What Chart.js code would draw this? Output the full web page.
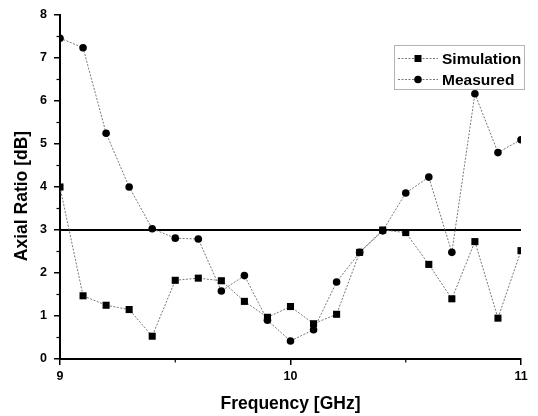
<!DOCTYPE html>
<html>
<head>
<meta charset="utf-8">
<script src="https://cdn.jsdelivr.net/npm/chart.js@4.4.1/dist/chart.umd.min.js"></script>
<style>
html,body{margin:0;padding:0;background:#fff;}
#wrap{width:538px;height:416px;position:relative;}
</style>
</head>
<body>
<div id="wrap"><canvas id="c" width="538" height="416"></canvas></div>
<script>
const frequencies = [9.0, 9.1, 9.2, 9.3, 9.4, 9.5, 9.6, 9.7, 9.8, 9.9, 10.0, 10.1, 10.2, 10.3, 10.4, 10.5, 10.6, 10.7, 10.8, 10.9, 11.0];
const simulation = [4.0, 1.47, 1.25, 1.15, 0.53, 1.83, 1.88, 1.82, 1.34, 0.97, 1.22, 0.82, 1.04, 2.48, 3.0, 2.94, 2.2, 1.4, 2.73, 0.95, 2.52];
const measured = [7.46, 7.24, 5.25, 4.0, 3.03, 2.81, 2.79, 1.58, 1.94, 0.9, 0.42, 0.68, 1.79, 2.48, 2.98, 3.86, 4.23, 2.48, 6.17, 4.8, 5.1];
const thresholdX = [9, 11];
const thresholdY = [3, 3];
const xTicks = [9, 10, 11];
const yTicks = [0, 1, 2, 3, 4, 5, 6, 7, 8];
const seriesNames = ['Simulation', 'Measured'];
const xTitle = 'Frequency [GHz]';
const yTitle = 'Axial Ratio [dB]';

const toXY = (xs, ys) => xs.map((x, i) => ({x: x, y: ys[i]}));
const FONT = '"Liberation Sans", Arial, sans-serif';

const minorTicks = {
  id: 'minorTicks',
  afterDraw(chart) {
    const ctx = chart.ctx, xs = chart.scales.x, ys = chart.scales.y, a = chart.chartArea;
    ctx.save();
    ctx.strokeStyle = '#000';
    ctx.lineWidth = 1.2;
    for (let v = 0.5; v < 8; v += 1) {
      const py = ys.getPixelForValue(v);
      ctx.beginPath(); ctx.moveTo(a.left - 3.5, py); ctx.lineTo(a.left, py); ctx.stroke();
    }
    for (let v = 9.5; v < 11; v += 1) {
      const px = xs.getPixelForValue(v);
      ctx.beginPath(); ctx.moveTo(px, a.bottom); ctx.lineTo(px, a.bottom + 3.5); ctx.stroke();
    }
    // y-axis title
    ctx.save();
    ctx.translate(22, 196);
    ctx.rotate(-Math.PI / 2);
    ctx.fillStyle = '#000';
    ctx.font = 'bold 17.5px ' + FONT;
    ctx.textAlign = 'center';
    ctx.textBaseline = 'middle';
    ctx.fillText(yTitle, 0, 0);
    ctx.restore();
    ctx.restore();
  }
};

const legendBox = {
  id: 'legendBox',
  afterDraw(chart) {
    const ctx = chart.ctx;
    const x0 = 394, y0 = 45, w = 130, h = 44;
    ctx.save();
    ctx.fillStyle = '#fff';
    ctx.fillRect(x0, y0, w, h);
    ctx.strokeStyle = '#666';
    ctx.lineWidth = 1;
    ctx.setLineDash([1, 1]);
    ctx.strokeRect(x0 + 0.5, y0 + 0.5, w, h);
    const rows = [y0 + 13.5, y0 + 34.5];
    const styles = ['rect', 'circle'];
    rows.forEach((ry, i) => {
      ctx.setLineDash([2, 1.5]);
      ctx.strokeStyle = '#777';
      ctx.beginPath(); ctx.moveTo(x0 + 4, ry); ctx.lineTo(x0 + 44, ry); ctx.stroke();
      ctx.setLineDash([]);
      ctx.fillStyle = '#000';
      if (styles[i] === 'rect') {
        ctx.fillRect(x0 + 20.5, ry - 3.5, 7, 7);
      } else {
        ctx.beginPath(); ctx.arc(x0 + 24, ry, 3.8, 0, Math.PI * 2); ctx.fill();
      }
      ctx.font = 'bold 15.5px ' + FONT;
      ctx.textBaseline = 'middle';
      ctx.textAlign = 'left';
      ctx.fillText(seriesNames[i], x0 + 48, ry + 1);
    });
    ctx.restore();
  }
};

new Chart(document.getElementById('c'), {
  type: 'line',
  data: {
    datasets: [
      {
        label: seriesNames[0],
        data: toXY(frequencies, simulation),
        borderColor: '#777',
        borderWidth: 1,
        borderDash: [2, 1.5],
        pointStyle: 'rect',
        pointRadius: 5,
        pointBackgroundColor: '#000',
        pointBorderColor: '#000',
        pointBorderWidth: 0,
        tension: 0
      },
      {
        label: seriesNames[1],
        data: toXY(frequencies, measured),
        borderColor: '#777',
        borderWidth: 1,
        borderDash: [2, 1.5],
        pointStyle: 'circle',
        pointRadius: 3.8,
        pointBackgroundColor: '#000',
        pointBorderColor: '#000',
        pointBorderWidth: 0,
        tension: 0
      },
      {
        label: 'threshold',
        data: toXY(thresholdX, thresholdY),
        borderColor: '#000',
        borderWidth: 1.8,
        pointRadius: 0,
        tension: 0
      }
    ]
  },
  options: {
    responsive: false,
    animation: false,
    events: [],
    layout: {padding: {left: 14, top: 15, right: 17, bottom: 1}},
    plugins: {legend: {display: false}, tooltip: {enabled: false}},
    scales: {
      x: {
        type: 'linear',
        min: 9, max: 11,
        afterBuildTicks: s => { s.ticks = xTicks.map(v => ({value: v})); },
        afterFit: s => { s.height = 56; },
        border: {display: true, color: '#000', width: 2},
        grid: {display: true, drawOnChartArea: false, drawTicks: true, tickLength: 6, color: '#000', lineWidth: 1.5},
        ticks: {color: '#000', font: {family: FONT, size: 12.5, weight: 'bold'}, padding: 4, maxRotation: 0},
        title: {display: true, text: xTitle, color: '#000', font: {family: FONT, size: 17.5, weight: 'bold'}, padding: {top: 4, bottom: 0}}
      },
      y: {
        min: 0, max: 8,
        afterBuildTicks: s => { s.ticks = yTicks.map(v => ({value: v})); },
        afterFit: s => { s.width = 46; },
        border: {display: true, color: '#000', width: 2},
        grid: {display: true, drawOnChartArea: false, drawTicks: true, tickLength: 6, color: '#000', lineWidth: 1.5},
        ticks: {color: '#000', font: {family: FONT, size: 12.5, weight: 'bold'}, padding: 7},
        title: {display: false}
      }
    }
  },
  plugins: [minorTicks, legendBox]
});
</script>
</body>
</html>
